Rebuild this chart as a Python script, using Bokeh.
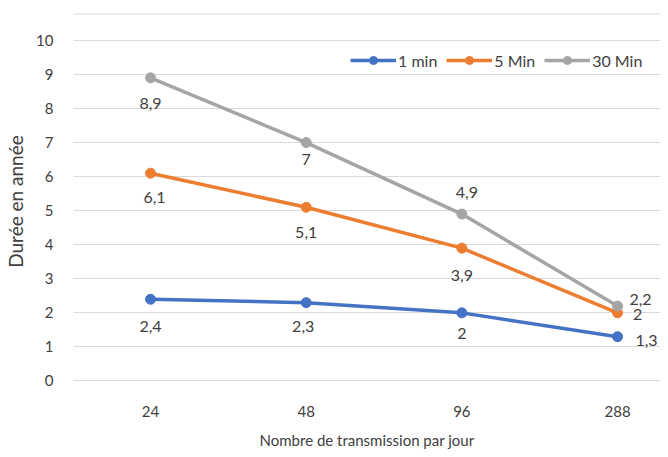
from bokeh.plotting import figure
from bokeh.models import ColumnDataSource, Range1d, FixedTicker, Legend, LegendItem, Span
from bokeh.core.properties import value
from bokeh.embed import file_html
from bokeh.resources import INLINE

categories = ["24", "48", "96", "288"]
series_names = ["1 min", "5 Min", "30 Min"]
vals_1min = [2.4, 2.3, 2.0, 1.3]
vals_5min = [6.1, 5.1, 3.9, 2.0]
vals_30min = [8.9, 7.0, 4.9, 2.2]
y_ticks = [0, 1, 2, 3, 4, 5, 6, 7, 8, 9, 10]

colors = ["#4472C4", "#ED7D31", "#A5A5A5"]
# label placement (screen px offsets) per point
offsets = [
    ([0, -3, 0, 29], [27, 24, 21, 4]),
    ([4, 0, 0, 20], [24, 25, 27, 2]),
    ([0, 0, 5, 23], [26, 17, -22, -7]),
]

FONT = "Lato"
TXT = "#404040"

p = figure(width=660, height=455, output_backend="svg", toolbar_location=None,
           x_range=Range1d(-0.495, 3.276), y_range=Range1d(-0.25, 10.79),
           min_border_left=73, min_border_right=0, min_border_top=13, min_border_bottom=66)

p.outline_line_color = None
p.background_fill_color = "white"
p.border_fill_color = "white"

xs = list(range(len(categories)))
p.xaxis.ticker = FixedTicker(ticks=xs)
p.xaxis.major_label_overrides = {i: c for i, c in enumerate(categories)}
p.yaxis.ticker = FixedTicker(ticks=y_ticks)
for ax in (p.xaxis[0], p.yaxis[0]):
    ax.axis_line_color = None
    ax.major_tick_line_color = None
    ax.minor_tick_line_color = None
    ax.major_label_text_font = FONT
    ax.major_label_text_font_size = "15px"
    ax.major_label_text_color = TXT
    ax.axis_label_text_font = FONT
    ax.axis_label_text_font_size = "15px"
    ax.axis_label_text_color = TXT
    ax.axis_label_text_font_style = "normal"
p.xaxis.major_label_standoff = 10
p.xaxis.axis_label = "Nombre de transmission par jour"
p.xaxis.axis_label_standoff = 11
p.yaxis.major_label_standoff = 14
p.yaxis.axis_label = "Durée en année"
p.yaxis.axis_label_text_font_size = "19px"
p.yaxis.axis_label_standoff = 6

p.xgrid.grid_line_color = None
p.ygrid.grid_line_color = "#D9D9D9"
p.ygrid.grid_line_width = 1

p.add_layout(Span(location=10.79, dimension="width", line_color="#D9D9D9", line_width=2))

items = []
for name, vals, col, (dx, dy) in zip(series_names, [vals_1min, vals_5min, vals_30min], colors, offsets):
    src = ColumnDataSource(dict(x=xs, y=vals,
                                lab=[(f"{v:g}").replace(".", ",") for v in vals],
                                dx=dx, dy=dy))
    r1 = p.line("x", "y", source=src, line_color=col, line_width=3.5)
    r2 = p.scatter("x", "y", source=src, size=10, fill_color=col, line_color=col)
    p.text("x", "y", text="lab", source=src, x_offset="dx", y_offset="dy",
           text_font=value(FONT), text_font_size="16px", text_color=TXT,
           text_align="center", text_baseline="middle")
    items.append(LegendItem(label=name, renderers=[r1, r2]))

legend = Legend(items=items, orientation="horizontal", location=(277, 319),
                background_fill_alpha=0, border_line_color=None,
                label_text_font=FONT, label_text_font_size="16px", label_text_color=TXT,
                glyph_width=46, spacing=9, padding=2, margin=0, label_standoff=2)
p.add_layout(legend)

open("out.html", "w").write(file_html(p, INLINE))
